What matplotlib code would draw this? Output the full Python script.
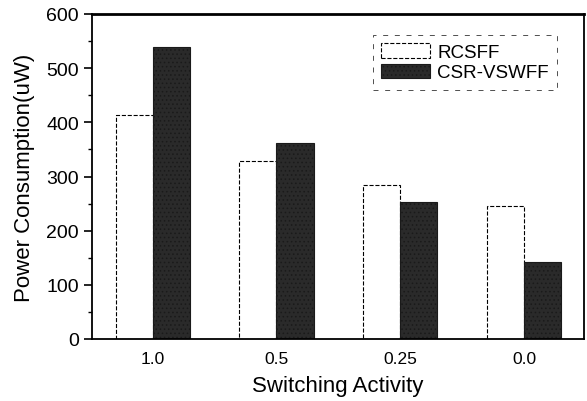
import matplotlib.pyplot as plt
import numpy as np

plt.rcParams["font.family"] = ["Liberation Sans", "DejaVu Sans"]
plt.rcParams["hatch.color"] = "#8a8a8a"
plt.rcParams["hatch.linewidth"] = 0.6

activities = ["1.0", "0.5", "0.25", "0.0"]
rcsff = [413, 329, 285, 245]
csr_vswff = [540, 362, 253, 142]

x = np.arange(len(activities))
width = 0.3

fig = plt.figure(figsize=(5.87, 4.02), dpi=100)
ax = fig.add_axes([92 / 587, 62 / 402, 492 / 587, 325 / 402])

ax.bar(x - width / 2, rcsff, width, facecolor="white", edgecolor="black",
       linestyle="--", linewidth=0.8, label="RCSFF")
ax.bar(x + width / 2, csr_vswff, width, facecolor="#2a2a2a", edgecolor="#1a1a1a",
       hatch="....", linewidth=0.8, label="CSR-VSWFF")

ax.set_xlim(-0.49, 3.485)
ax.set_ylim(0, 600)
ax.set_xticks(x)
ax.set_xticklabels(activities)
ax.set_yticks(range(0, 601, 100))
ax.set_yticks(range(50, 600, 100), minor=True)
ax.tick_params(axis="x", length=0, pad=9, labelsize=12.5)
ax.tick_params(axis="y", which="major", length=6, width=1.2, labelsize=14, direction="out")
ax.tick_params(axis="y", which="minor", length=3, width=1.0, direction="out")

for side in ["left", "bottom", "right"]:
    ax.spines[side].set_linewidth(1.3)
ax.spines["top"].set_linewidth(2.0)

ax.set_xlabel("Switching Activity", fontsize=16, labelpad=6)
ax.set_ylabel("Power Consumption(uW)", fontsize=16, labelpad=8)

leg = ax.legend(loc="upper right", bbox_to_anchor=(0.965, 0.965), fontsize=13.5,
                frameon=True, fancybox=False, handlelength=2.6, handleheight=0.8,
                borderpad=0.45, labelspacing=0.15, handletextpad=0.4)
leg.get_frame().set_edgecolor("black")
leg.get_frame().set_linestyle((0, (6, 8)))
leg.get_frame().set_linewidth(0.6)

fig.savefig("out.png", dpi=100)
